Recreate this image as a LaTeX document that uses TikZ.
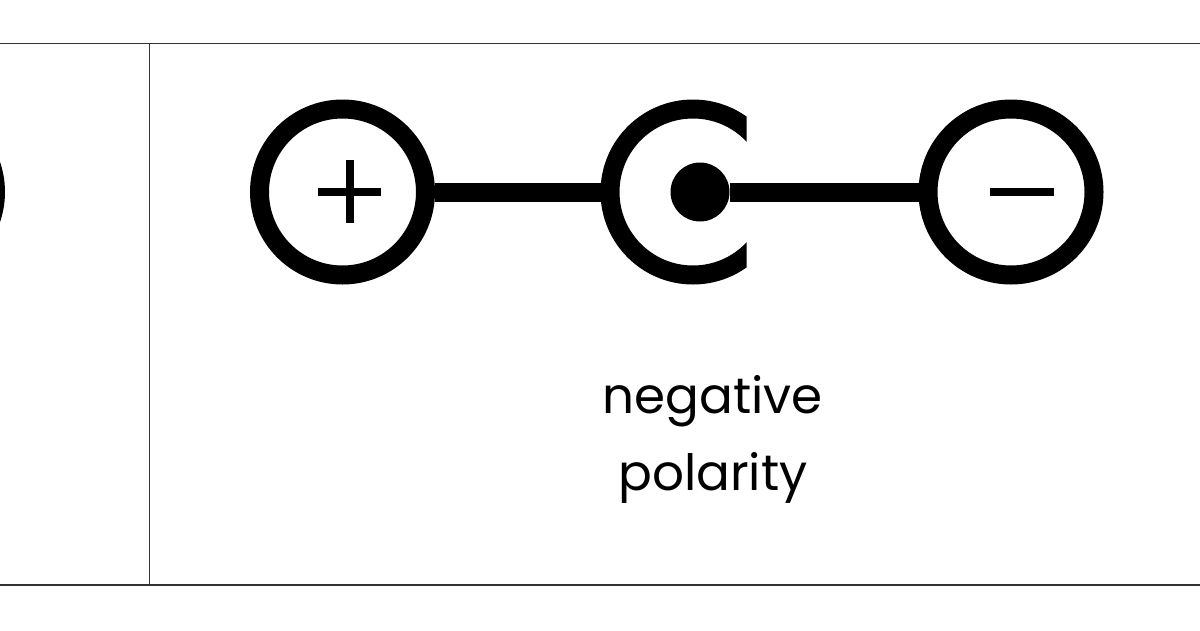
\documentclass[tikz,border=0pt]{standalone}
\usepackage{fontspec}
\setmainfont{Poppins}
\usepackage{tikz}
\usetikzlibrary{positioning,calc}
\tikzset{
ring/.style = {draw, circle, line width=19pt, minimum size=166pt, inner sep=0pt},
pin/.style = {fill, circle, minimum size=59pt, inner sep=0pt},
wire/.style = {line width=19pt},
sign/.style = {line width=8pt},
frame/.style = {line width=1.4pt, draw=black!80},
caption/.style = {font=\fontsize{50}{77}\selectfont, inner sep=0pt, anchor=base}
}
\begin{document}
\begin{tikzpicture}[x=1pt, y=-1pt]

    \clip (0,0) rectangle (1200,630);
    \fill[white] (0,0) rectangle (1200,630);

    \coordinate (tl) at (0,43.3);
    \coordinate (tr) at (1200,43.3);
    \coordinate (bl) at (0,585);
    \coordinate (br) at (1200,585);
    \draw[frame] (tl) -- (tr);
    \draw[frame] (bl) -- (br);
    \draw[frame] (tl -| 149.5,0) -- (bl -| 149.5,0);

    % symbol cut off at the left edge
    \node [ring] (prev) at (-87.5,192) {};

    \node [ring] (plus) at (342.5,192) {};
    \draw[sign] ([xshift=-24.5pt]plus.center) -- ([xshift=38.5pt]plus.center);
    \draw[sign] ([shift={(7.5,-32)}]plus.center) -- ([shift={(7.5,31)}]plus.center);

    \begin{scope}
      \clip (500,50) rectangle (746.5,350);
      \node [ring] (jack) at (693,192) {};
    \end{scope}
    \node [pin] (tip) at (700,192) {};

    \node [ring] (minus) at (1011,192) {};
    \draw[sign] ([xshift=-21pt]minus.center) -- ([xshift=43pt]minus.center);

    \draw[wire] (plus.east) -- (jack.west);
    \draw[wire] (tip.east) -- (minus.west);

    \node [caption] (line1) at (712.5,413) {negative};
    \node [caption] (line2) at (713,490) {polarity};

\end{tikzpicture}
\end{document}
